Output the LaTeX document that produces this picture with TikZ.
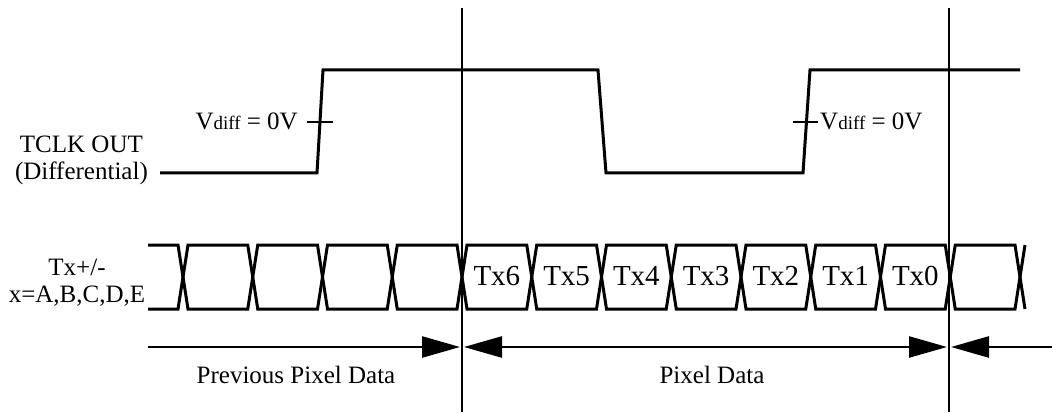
\documentclass[tikz,border=0pt]{standalone}
\usepackage{fontspec}
\setmainfont{Liberation Serif}
\usetikzlibrary{arrows.meta}
\begin{document}
\begin{tikzpicture}[x=1pt,y=-1pt,
  sig/.style={line width=3pt, line join=miter},
  bus/.style={line width=3pt, line join=miter},
  marker/.style={line width=2.2pt},
  spanline/.style={line width=2.5pt},
  lbl/.style={font=\fontsize{25}{27}\selectfont, inner sep=0pt},
  cell/.style={font=\fontsize{29}{30}\selectfont, inner sep=0pt}]
\useasboundingbox (0,0) rectangle (1052,414);

% vertical markers
\coordinate (v1t) at (462,8);  \coordinate (v1b) at (462,412);
\coordinate (v2t) at (949,8);  \coordinate (v2b) at (949,412);
\draw[marker] (v1t) -- (v1b);
\draw[marker] (v2t) -- (v2b);

% clock
\coordinate (c0) at (160,173);
\draw[sig] (c0) -- (317,173) -- (323,70) -- (598,70) -- (606,173) -- (803,173) -- (810,70) -- (1020,70);
\draw[line width=2.5pt] (307,122) -- (333,122);
\draw[line width=2.5pt] (793,122) -- (818,122);
\node[lbl, anchor=base east] (vl) at (298,130) {V{\fontsize{19}{19}\selectfont diff} = 0V};
\node[lbl, anchor=base west] (vr) at (820,130) {V{\fontsize{19}{19}\selectfont diff} = 0V};
\node[lbl, align=center, anchor=base east] (clk) at (148,180) {TCLK OUT\\(Differential)};

% bus
\def\tp{245}\def\bt{309}\def\md{277}\def\hw{5}
\draw[bus] (148,\tp) -- ({183-\hw},\tp) -- (183,\md) -- ({183-\hw},\bt) -- (148,\bt);
\foreach \i in {0,...,11}{
  \pgfmathsetmacro{\a}{183+69.75*\i}
  \pgfmathsetmacro{\b}{\a+69.75}
  \draw[bus] (\a,\md) -- ({\a+\hw},\tp) -- ({\b-\hw},\tp) -- (\b,\md) -- ({\b-\hw},\bt) -- ({\a+\hw},\bt) -- cycle;
}
\pgfmathsetmacro{\e}{183+69.75*12}
\draw[bus] ({\e+\hw},\tp) -- (\e,\md) -- ({\e+\hw},\bt);
\foreach \n [count=\k from 4] in {6,5,4,3,2,1,0}{
  \pgfmathsetmacro{\m}{183+69.75*\k+34.875}
  \node[cell, anchor=base] (tx\n) at (\m,285) {Tx\n};
}
\node[lbl, align=center, anchor=base] (bl) at (77,302) {Tx+/-\\x=A,B,C,D,E};

% spans
\coordinate (s0) at (148,347);
\coordinate (s1) at (460,347);
\coordinate (s2) at (464,347);
\coordinate (s3) at (947,347);
\coordinate (s4) at (951,347);
\coordinate (s5) at (1052,347);
\draw[spanline, -{Triangle[length=38pt,width=21pt]}] (s0) -- (s1);
\draw[spanline, {Triangle[length=38pt,width=21pt]}-{Triangle[length=38pt,width=21pt]}] (s2) -- (s3);
\draw[spanline, {Triangle[length=38pt,width=21pt]}-] (s4) -- (s5);
\node[lbl, anchor=base] (pp) at (296,383) {Previous Pixel Data};
\node[lbl, anchor=base] (pd) at (712,383) {Pixel Data};
\end{tikzpicture}
\end{document}
